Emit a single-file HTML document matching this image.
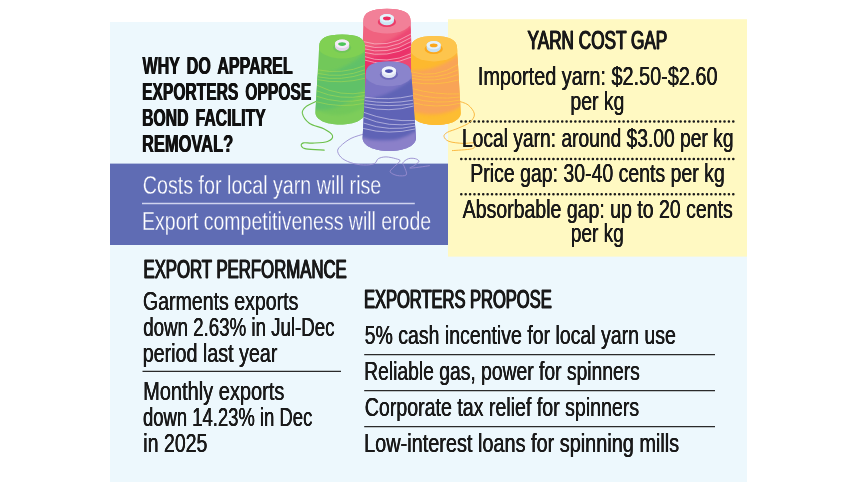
<!DOCTYPE html>
<html><head><meta charset="utf-8"><title>Yarn cost gap</title>
<style>
html,body{margin:0;padding:0;background:#fff}
#pg{position:relative;width:857px;height:482px;overflow:hidden;font-family:"Liberation Sans",sans-serif}
svg{display:block;position:absolute;left:0;top:0}
.t{position:absolute;left:0;top:0;white-space:nowrap;line-height:1;transform-origin:0 0}
.ti{font-size:24.3px;font-weight:bold;color:#111;text-shadow:0.55px 0 0 #111,-0.55px 0 0 #111;word-spacing:4.0px;}
.hd{font-size:26.5px;font-weight:normal;color:#1a1a1a;text-shadow:0.75px 0 0 #1a1a1a,-0.75px 0 0 #1a1a1a;-webkit-text-stroke:0.8px #1a1a1a;}
.bd{font-size:25.5px;font-weight:normal;color:#1a1a1a;text-shadow:0.22px 0 0 #1a1a1a,-0.22px 0 0 #1a1a1a;}
.wh{font-size:26.0px;font-weight:normal;color:#fff;-webkit-text-stroke:0.3px #5f6cb4;}
</style>
</head><body>
<div id="pg">
<svg width="857" height="482" viewBox="0 0 857 482">
<rect x="110" y="22" width="637" height="460" fill="#edf8fd"/>
<rect x="110" y="163.6" width="338" height="81.4" fill="#5f6cb4"/>
<rect x="448" y="19.2" width="299" height="237.4" fill="#fff9c2"/>
<line x1="142" y1="203.4" x2="414.8" y2="203.4" stroke="#cfd3ee" stroke-width="1.5"/>
<line x1="461.25" y1="121.4" x2="733.5" y2="121.4" stroke="#1a1a1a" stroke-width="2.5" stroke-linecap="round" stroke-dasharray="0.1 4.287"/>
<line x1="461.25" y1="159.1" x2="733.5" y2="159.1" stroke="#1a1a1a" stroke-width="2.5" stroke-linecap="round" stroke-dasharray="0.1 4.287"/>
<line x1="461.25" y1="194.3" x2="733.5" y2="194.3" stroke="#1a1a1a" stroke-width="2.5" stroke-linecap="round" stroke-dasharray="0.1 4.287"/>
<line x1="142.5" y1="371.3" x2="341" y2="371.3" stroke="#2a2a2a" stroke-width="1.2"/>
<line x1="364.2" y1="354.6" x2="715" y2="354.6" stroke="#2a2a2a" stroke-width="1.2"/>
<line x1="364.2" y1="390.6" x2="715" y2="390.6" stroke="#2a2a2a" stroke-width="1.2"/>
<line x1="364.2" y1="426.6" x2="715" y2="426.6" stroke="#2a2a2a" stroke-width="1.2"/>
<defs><filter id="bl" x="-20%" y="-20%" width="140%" height="140%"><feGaussianBlur stdDeviation="1.6"/></filter><filter id="bs" x="-20%" y="-20%" width="140%" height="140%"><feGaussianBlur stdDeviation="0.7"/></filter><clipPath id="cP"><path d="M363.4,20.8 C363.4,12.6 371.0,8.8 387.0,8.8 C403.0,8.8 410.6,12.6 410.6,20.8 L412.5,88.0 C412.5,95.0 401.8,100.0 387.0,100.0 C372.2,100.0 361.5,95.0 361.5,88.0 Z"/></clipPath><clipPath id="cG"><path d="M319.2,46.2 C319.2,38.2 326.5,34.5 342.1,34.5 C357.6,34.5 364.9,38.2 364.9,46.2 L365.0,112.4 C365.0,119.4 354.6,124.4 340.2,124.4 C325.8,124.4 315.4,119.4 315.4,112.4 Z"/></clipPath><clipPath id="cO"><path d="M410.9,48.4 C410.9,40.0 418.3,36.1 434.0,36.1 C449.7,36.1 457.1,40.0 457.1,48.4 L460.8,113.0 C460.8,120.0 450.5,125.0 436.2,125.0 C421.9,125.0 411.6,120.0 411.6,113.0 Z"/></clipPath><clipPath id="cV"><path d="M365.9,73.6 C365.9,65.4 373.2,61.6 388.6,61.6 C404.0,61.6 411.3,65.4 411.3,73.6 L416.0,138.0 C416.0,145.5 404.8,151.0 389.3,151.0 C373.8,151.0 362.6,145.5 362.6,138.0 Z"/></clipPath></defs>
<path d="M317.0,101.0 C315.2,101.9 308.4,104.6 306.0,106.6 C303.6,108.6 301.8,110.4 302.3,113.2 C302.9,116.0 305.7,120.6 309.3,123.2 C312.9,125.8 320.3,126.9 324.2,129.0 C328.1,131.1 331.9,133.5 332.5,135.6 C333.1,137.7 330.8,140.2 327.5,141.5 C324.2,142.8 316.6,142.9 312.6,143.1 C308.6,143.3 305.4,142.4 303.5,142.9 C301.6,143.4 300.9,144.8 301.3,145.8 C301.7,146.8 302.2,148.2 306.0,148.9 C309.8,149.6 321.2,149.9 324.2,150.1" fill="none" stroke="#6cc04a" stroke-width="1.1" stroke-linecap="round" opacity="1"/>
<path d="M364.0,134.0 C361.8,134.7 354.9,136.4 351.0,138.4 C347.1,140.4 342.7,143.9 340.5,146.1 C338.3,148.3 337.3,149.6 337.7,151.7 C338.1,153.8 339.9,156.7 342.6,158.7 C345.3,160.7 349.8,162.5 353.8,163.6 C357.8,164.7 362.9,165.1 366.4,165.0 C369.9,164.9 372.8,164.4 374.8,163.3 C376.8,162.2 376.4,159.8 378.3,158.7 C380.2,157.6 383.1,156.9 386.0,156.9 C388.9,156.9 393.5,158.0 395.8,158.7 C398.1,159.4 400.5,159.6 400.0,161.1 C399.5,162.6 394.6,166.0 393.0,167.8 C391.4,169.6 389.5,170.7 390.2,172.0 C390.9,173.3 394.5,175.0 397.2,175.5 C399.9,176.0 405.1,176.3 406.3,174.8 C407.5,173.3 404.8,168.4 404.2,166.4 C403.6,164.4 402.1,164.2 402.8,162.9 C403.5,161.6 406.3,159.4 408.4,158.7 C410.5,158.0 413.6,158.2 415.4,158.7 C417.1,159.2 419.1,160.3 418.9,161.5 C418.7,162.7 415.5,164.6 414.0,165.7 C412.5,166.8 408.9,167.9 409.8,168.1 C410.7,168.3 416.3,167.5 419.6,167.1 C422.9,166.7 427.8,165.9 429.4,165.7" fill="none" stroke="#988ccf" stroke-width="0.9" stroke-linecap="round" opacity="1"/>
<g id="spP">
<path d="M363.4,20.8 C363.4,12.6 371.0,8.8 387.0,8.8 C403.0,8.8 410.6,12.6 410.6,20.8 L412.5,88.0 C412.5,95.0 401.8,100.0 387.0,100.0 C372.2,100.0 361.5,95.0 361.5,88.0 Z" fill="#f0627f"/>
<g clip-path="url(#cP)">
<g filter="url(#bl)">
<path d="M360,50 Q386,46 412,26 L412,120 L360,120 Z" fill="#ed4673" opacity="1"/>
<path d="M360,58 Q386,58 412,40 L412,52 Q390,70 360,74 Z" fill="#ea2f69" opacity="0.9"/>
</g>
<ellipse filter="url(#bs)" cx="387.0" cy="20.3" rx="25.1" ry="13.2" fill="#f28098"/>
<path d="M362.8,41.5 Q386.9,49.2 411.0,34.0" fill="none" stroke="#fbc9d4" stroke-width="0.65"/>
<path d="M362.7,45.0 Q386.9,52.8 411.1,37.5" fill="none" stroke="#fbc9d4" stroke-width="0.65"/>
<path d="M362.6,48.5 Q386.9,56.0 411.2,41.5" fill="none" stroke="#fbc9d4" stroke-width="0.65"/>
<path d="M362.5,52.0 Q386.9,59.0 411.3,46.0" fill="none" stroke="#fbc9d4" stroke-width="0.65"/>
<path d="M362.4,56.0 Q387.0,65.2 411.5,53.5" fill="none" stroke="#fbc9d4" stroke-width="0.65"/>
<path d="M362.3,59.5 Q387.0,67.8 411.6,57.0" fill="none" stroke="#fbc9d4" stroke-width="0.65"/>
</g>
<ellipse cx="386.9" cy="21.9" rx="9.1" ry="5.2" fill="#ec3c68"/>
<path d="M379.8,18.1 A7.1,4.2 0 0 1 394.0,18.1 L394.0,21.1 A7.1,4.2 0 0 1 379.8,21.1 Z" fill="#cbe7f5"/>
<ellipse cx="386.9" cy="18.1" rx="7.1" ry="4.2" fill="#e4f4fb"/>
<ellipse cx="386.9" cy="18.4" rx="3.9" ry="1.8" fill="#ec2d5e"/>
</g>
<g id="spG">
<path d="M319.2,46.2 C319.2,38.2 326.5,34.5 342.1,34.5 C357.6,34.5 364.9,38.2 364.9,46.2 L365.0,112.4 C365.0,119.4 354.6,124.4 340.2,124.4 C325.8,124.4 315.4,119.4 315.4,112.4 Z" fill="#72c85a"/>
<g clip-path="url(#cG)">
<g filter="url(#bl)">
<path d="M312,76 Q345,72 368,50 L368,86 Q345,112 312,110 Z" fill="#5fc169" opacity="0.95"/>
<path d="M314.6,109.0 Q340.3,122.5 366.0,106.0 L366.0,130.4 L314.6,130.4 Z" fill="#7dcd5a"/>
</g>
<ellipse filter="url(#bs)" cx="342.1" cy="45.7" rx="24.4" ry="12.9" fill="#80d052"/>
<path d="M317.8,69.8 Q341.4,74.9 364.9,65.6" fill="none" stroke="#a2d753" stroke-width="0.65"/>
<path d="M317.6,73.4 Q341.3,78.8 364.9,69.8" fill="none" stroke="#a2d753" stroke-width="0.65"/>
<path d="M317.4,76.8 Q341.2,81.5 364.9,73.4" fill="none" stroke="#a2d753" stroke-width="0.65"/>
<path d="M317.3,79.6 Q341.1,84.5 364.9,78.3" fill="none" stroke="#a2d753" stroke-width="0.65"/>
<path d="M317.0,85.3 Q341.0,97.4 365.0,92.3" fill="none" stroke="#a2d753" stroke-width="0.65"/>
<path d="M316.6,90.8 Q340.8,100.8 365.0,95.7" fill="none" stroke="#a2d753" stroke-width="0.65"/>
<path d="M316.3,96.2 Q340.7,104.8 365.0,99.3" fill="none" stroke="#a2d753" stroke-width="0.65"/>
<path d="M316.0,101.7 Q340.5,108.5 365.0,103.2" fill="none" stroke="#a2d753" stroke-width="0.65"/>
</g>
<ellipse cx="342.1" cy="47.6" rx="9.1" ry="5.2" fill="#70c658"/>
<path d="M335.0,43.8 A7.1,4.2 0 0 1 349.2,43.8 L349.2,46.8 A7.1,4.2 0 0 1 335.0,46.8 Z" fill="#e2d3ea"/>
<ellipse cx="342.1" cy="43.8" rx="7.1" ry="4.2" fill="#f5edf7"/>
<ellipse cx="342.1" cy="44.1" rx="3.9" ry="1.8" fill="#4cc55a"/>
</g>
<path d="M458.0,101.0 C459.7,101.7 465.4,102.7 468.1,104.9 C470.8,107.1 474.1,111.1 474.4,114.0 C474.7,116.9 472.5,119.9 469.8,122.3 C467.1,124.7 461.9,126.5 458.2,128.2 C454.5,129.9 449.8,130.9 447.4,132.3 C445.0,133.7 443.7,135.0 444.0,136.5 C444.3,138.0 445.8,140.2 449.0,141.4 C452.2,142.6 459.2,143.2 463.2,143.4 C467.2,143.6 471.1,142.5 473.1,142.8 C475.1,143.1 475.4,144.1 475.1,145.1 C474.8,146.1 475.3,148.0 471.5,148.9 C467.7,149.8 455.6,150.3 452.4,150.6" fill="none" stroke="#f9b233" stroke-width="0.9" stroke-linecap="round" opacity="1"/>
<g id="spO">
<path d="M410.9,48.4 C410.9,40.0 418.3,36.1 434.0,36.1 C449.7,36.1 457.1,40.0 457.1,48.4 L460.8,113.0 C460.8,120.0 450.5,125.0 436.2,125.0 C421.9,125.0 411.6,120.0 411.6,113.0 Z" fill="#fdb92e"/>
<g clip-path="url(#cO)">
<g filter="url(#bl)">
<path d="M405,70 Q435,74 462,52 L462,106 Q440,120 405,110 Z" fill="#f9a456" opacity="1"/>
<path d="M410.6,111.0 Q436.0,125.5 461.4,106.0 L461.4,131.0 L410.6,131.0 Z" fill="#fdbd30"/>
</g>
<ellipse filter="url(#bs)" cx="434.0" cy="47.9" rx="24.6" ry="13.5" fill="#fdc54e"/>
<path d="M411.2,71.8 Q434.6,79.2 458.0,64.6" fill="none" stroke="#fdc93e" stroke-width="0.65"/>
<path d="M411.2,75.2 Q434.8,81.1 458.3,69.8" fill="none" stroke="#fdc93e" stroke-width="0.65"/>
<path d="M411.2,78.3 Q434.9,83.5 458.6,74.4" fill="none" stroke="#fdc93e" stroke-width="0.65"/>
<path d="M411.3,82.2 Q435.1,86.5 458.9,79.9" fill="none" stroke="#fdc93e" stroke-width="0.65"/>
<path d="M411.3,88.4 Q435.5,95.0 459.7,93.9" fill="none" stroke="#fdc93e" stroke-width="0.65"/>
<path d="M411.4,93.1 Q435.6,100.5 459.9,97.0" fill="none" stroke="#fdc93e" stroke-width="0.65"/>
<path d="M411.4,97.8 Q435.7,105.1 460.1,100.1" fill="none" stroke="#fdc93e" stroke-width="0.65"/>
<path d="M411.5,102.4 Q435.9,109.2 460.2,103.2" fill="none" stroke="#fdc93e" stroke-width="0.65"/>
</g>
<ellipse cx="433.7" cy="48.9" rx="9.1" ry="5.2" fill="#fba81c"/>
<path d="M426.6,45.1 A7.1,4.2 0 0 1 440.8,45.1 L440.8,48.1 A7.1,4.2 0 0 1 426.6,48.1 Z" fill="#c6e0f2"/>
<ellipse cx="433.7" cy="45.1" rx="7.1" ry="4.2" fill="#e4f1fa"/>
<ellipse cx="433.7" cy="45.4" rx="3.9" ry="1.8" fill="#fba81c"/>
</g>
<g id="spV">
<path d="M365.9,73.6 C365.9,65.4 373.2,61.6 388.6,61.6 C404.0,61.6 411.3,65.4 411.3,73.6 L416.0,138.0 C416.0,145.5 404.8,151.0 389.3,151.0 C373.8,151.0 362.6,145.5 362.6,138.0 Z" fill="#7a74c4"/>
<g clip-path="url(#cV)">
<g filter="url(#bl)">
<path d="M360,100 Q390,98 418,74 L418,140 L360,140 Z" fill="#5f63b6" opacity="1"/>
<path d="M361.7,137.0 Q389.1,148.0 416.5,131.0 L416.5,157.0 L361.7,157.0 Z" fill="#8b80c9"/>
</g>
<ellipse filter="url(#bs)" cx="388.6" cy="73.1" rx="24.2" ry="13.2" fill="#8a84cc"/>
<path d="M364.7,97.2 Q388.8,101.0 412.9,95.6" fill="none" stroke="#d6d2ee" stroke-width="0.65"/>
<path d="M364.5,100.6 Q388.9,104.6 413.2,100.2" fill="none" stroke="#d6d2ee" stroke-width="0.65"/>
<path d="M364.4,103.7 Q388.9,107.5 413.5,103.7" fill="none" stroke="#d6d2ee" stroke-width="0.65"/>
<path d="M364.2,106.8 Q388.9,113.0 413.7,106.0" fill="none" stroke="#d6d2ee" stroke-width="0.65"/>
<path d="M363.9,112.4 Q389.3,122.1 414.7,120.5" fill="none" stroke="#d6d2ee" stroke-width="0.65"/>
<path d="M363.7,117.4 Q389.3,128.2 414.9,123.4" fill="none" stroke="#d6d2ee" stroke-width="0.65"/>
<path d="M363.4,123.0 Q389.3,132.2 415.1,126.1" fill="none" stroke="#d6d2ee" stroke-width="0.65"/>
<path d="M363.1,128.4 Q389.2,135.5 415.3,128.9" fill="none" stroke="#d6d2ee" stroke-width="0.65"/>
</g>
<ellipse cx="388.9" cy="74.6" rx="9.1" ry="5.2" fill="#6e69bc"/>
<path d="M381.8,70.8 A7.1,4.2 0 0 1 396.0,70.8 L396.0,73.8 A7.1,4.2 0 0 1 381.8,73.8 Z" fill="#dfe4f4"/>
<ellipse cx="388.9" cy="70.8" rx="7.1" ry="4.2" fill="#f1f4fb"/>
<ellipse cx="388.9" cy="71.1" rx="3.9" ry="1.8" fill="#4c4fae"/>
</g>
</svg>
<div class="t ti" style="transform:translate(142.49px,54px) scaleX(0.6601)">WHY DO APPAREL</div>
<div class="t ti" style="transform:translate(142.05px,80px) scaleX(0.6426)">EXPORTERS OPPOSE</div>
<div class="t ti" style="transform:translate(142.03px,106px) scaleX(0.6502)">BOND FACILITY</div>
<div class="t ti" style="transform:translate(142.00px,132px) scaleX(0.6780)">REMOVAL?</div>
<div class="t wh" style="transform:translate(142.82px,172px) scaleX(0.7572)">Costs for local yarn will rise</div>
<div class="t wh" style="transform:translate(142.12px,208px) scaleX(0.7489)">Export competitiveness will erode</div>
<div class="t hd" style="transform:translate(527.52px,27px) scaleX(0.6487)">YARN COST GAP</div>
<div class="t bd" style="transform:translate(477.87px,64px) scaleX(0.7791)">Imported yarn: $2.50-$2.60</div>
<div class="t bd" style="transform:translate(570.44px,89px) scaleX(0.7604)">per kg</div>
<div class="t bd" style="transform:translate(461.99px,126px) scaleX(0.7540)">Local yarn: around $3.00 per kg</div>
<div class="t bd" style="transform:translate(470.26px,161px) scaleX(0.7640)">Price gap: 30-40 cents per kg</div>
<div class="t bd" style="transform:translate(462.70px,197px) scaleX(0.7650)">Absorbable gap: up to 20 cents</div>
<div class="t bd" style="transform:translate(570.83px,221px) scaleX(0.7470)">per kg</div>
<div class="t hd" style="transform:translate(143.45px,256px) scaleX(0.6324)">EXPORT PERFORMANCE</div>
<div class="t bd" style="transform:translate(142.95px,289px) scaleX(0.7668)">Garments exports</div>
<div class="t bd" style="transform:translate(143.27px,315px) scaleX(0.7333)">down 2.63% in Jul-Dec</div>
<div class="t bd" style="transform:translate(142.71px,341px) scaleX(0.7724)">period last year</div>
<div class="t bd" style="transform:translate(143.14px,379px) scaleX(0.7846)">Monthly exports</div>
<div class="t bd" style="transform:translate(143.00px,405px) scaleX(0.7237)">down 14.23% in Dec</div>
<div class="t bd" style="transform:translate(143.29px,431px) scaleX(0.7663)">in 2025</div>
<div class="t hd" style="transform:translate(363.93px,286px) scaleX(0.6229)">EXPORTERS PROPOSE</div>
<div class="t bd" style="transform:translate(364.64px,323px) scaleX(0.7651)">5% cash incentive for local yarn use</div>
<div class="t bd" style="transform:translate(364.19px,359px) scaleX(0.7567)">Reliable gas, power for spinners</div>
<div class="t bd" style="transform:translate(364.76px,395px) scaleX(0.7683)">Corporate tax relief for spinners</div>
<div class="t bd" style="transform:translate(364.12px,431px) scaleX(0.7799)">Low-interest loans for spinning mills</div>
</div>
</body></html>
